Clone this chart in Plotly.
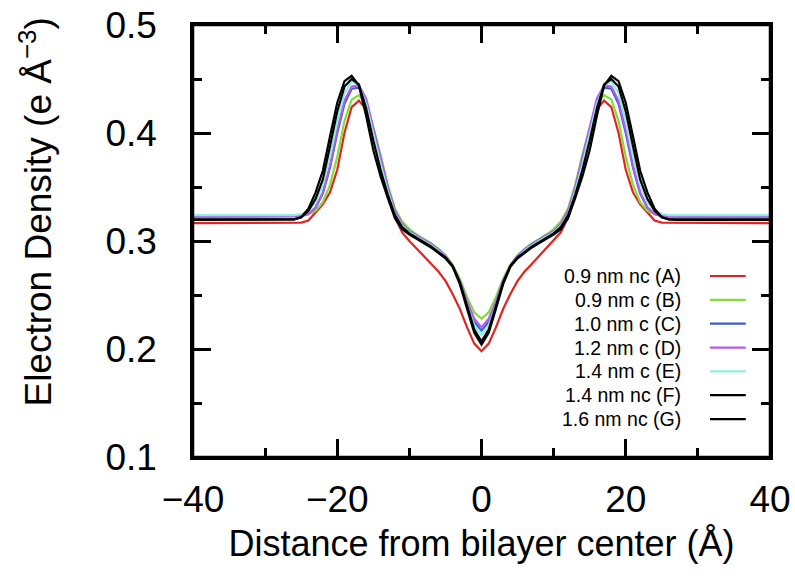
import plotly.graph_objects as go

# ---- data ----
x = [-40, -35, -30, -27, -26, -25, -24, -23, -22, -21, -20, -19, -18, -17, -16, -15, -14,
     -13, -12, -11, -10, -9, -8, -7, -6, -5, -4, -3, -2, -1, 0,
     1, 2, 3, 4, 5, 6, 7, 8, 9, 10, 11, 12, 13, 14, 15, 16, 17, 18, 19, 20,
     21, 22, 23, 24, 25, 26, 27, 30, 35, 40]

dens_A = [0.3165, 0.3165, 0.317, 0.317, 0.317, 0.317, 0.319, 0.326, 0.334, 0.345, 0.366, 0.400, 0.424, 0.430, 0.422, 0.401, 0.374,
          0.346, 0.322, 0.308, 0.300, 0.293, 0.286, 0.279, 0.272, 0.263, 0.251, 0.237, 0.220, 0.205, 0.198,
          0.205, 0.220, 0.237, 0.251, 0.263, 0.272, 0.279, 0.286, 0.293, 0.300, 0.308, 0.322, 0.346, 0.374, 0.401, 0.422, 0.430, 0.424, 0.400, 0.366,
          0.345, 0.334, 0.326, 0.319, 0.317, 0.317, 0.317, 0.317, 0.3165, 0.3165]

dens_B = [0.324, 0.324, 0.324, 0.324, 0.324, 0.324, 0.325, 0.328, 0.336, 0.352, 0.378, 0.411, 0.431, 0.435, 0.427, 0.405, 0.380,
          0.352, 0.330, 0.318, 0.311, 0.306, 0.302, 0.298, 0.293, 0.287, 0.278, 0.265, 0.248, 0.234, 0.228,
          0.234, 0.248, 0.265, 0.278, 0.287, 0.293, 0.298, 0.302, 0.306, 0.311, 0.318, 0.330, 0.352, 0.380, 0.405, 0.427, 0.435, 0.431, 0.411, 0.378,
          0.352, 0.336, 0.328, 0.325, 0.324, 0.324, 0.324, 0.324, 0.324, 0.324]

dens_C = [0.3225, 0.3225, 0.3225, 0.3225, 0.3225, 0.323, 0.325, 0.331, 0.344, 0.368, 0.400, 0.427, 0.441, 0.442, 0.430, 0.404, 0.376,
          0.349, 0.327, 0.315, 0.309, 0.305, 0.301, 0.297, 0.292, 0.286, 0.277, 0.262, 0.242, 0.225, 0.217,
          0.225, 0.242, 0.262, 0.277, 0.286, 0.292, 0.297, 0.301, 0.305, 0.309, 0.315, 0.327, 0.349, 0.376, 0.404, 0.430, 0.442, 0.441, 0.427, 0.400,
          0.368, 0.344, 0.331, 0.325, 0.323, 0.3225, 0.3225, 0.3225, 0.3225, 0.3225]

dens_D = [0.3225, 0.3225, 0.3225, 0.3225, 0.3225, 0.323, 0.325, 0.331, 0.345, 0.370, 0.403, 0.430, 0.443, 0.444, 0.432, 0.405, 0.377,
          0.350, 0.328, 0.316, 0.309, 0.305, 0.301, 0.297, 0.292, 0.286, 0.277, 0.263, 0.244, 0.228, 0.220,
          0.228, 0.244, 0.263, 0.277, 0.286, 0.292, 0.297, 0.301, 0.305, 0.309, 0.316, 0.328, 0.350, 0.377, 0.405, 0.432, 0.444, 0.443, 0.430, 0.403,
          0.370, 0.345, 0.331, 0.325, 0.323, 0.3225, 0.3225, 0.3225, 0.3225, 0.3225]

dens_E = [0.324, 0.324, 0.324, 0.324, 0.324, 0.325, 0.328, 0.336, 0.352, 0.379, 0.411, 0.437, 0.448, 0.444, 0.427, 0.399, 0.371,
          0.346, 0.325, 0.314, 0.308, 0.304, 0.300, 0.296, 0.291, 0.285, 0.276, 0.261, 0.240, 0.222, 0.213,
          0.222, 0.240, 0.261, 0.276, 0.285, 0.291, 0.296, 0.300, 0.304, 0.308, 0.314, 0.325, 0.346, 0.371, 0.399, 0.427, 0.444, 0.448, 0.437, 0.411,
          0.379, 0.352, 0.336, 0.328, 0.325, 0.324, 0.324, 0.324, 0.324, 0.324]

dens_F = [0.3195, 0.3195, 0.3195, 0.3195, 0.320, 0.322, 0.328, 0.339, 0.357, 0.388, 0.420, 0.443, 0.450, 0.445, 0.423, 0.393, 0.366,
          0.343, 0.324, 0.313, 0.307, 0.303, 0.299, 0.295, 0.290, 0.285, 0.277, 0.262, 0.240, 0.218, 0.207,
          0.218, 0.240, 0.262, 0.277, 0.285, 0.290, 0.295, 0.299, 0.303, 0.307, 0.313, 0.324, 0.343, 0.366, 0.393, 0.423, 0.445, 0.450, 0.443, 0.420,
          0.388, 0.357, 0.339, 0.328, 0.322, 0.320, 0.3195, 0.3195, 0.3195, 0.3195]

dens_G = [0.320, 0.320, 0.320, 0.320, 0.320, 0.322, 0.330, 0.345, 0.365, 0.397, 0.428, 0.448, 0.453, 0.444, 0.416, 0.384, 0.360,
          0.340, 0.321, 0.311, 0.306, 0.302, 0.298, 0.294, 0.289, 0.284, 0.276, 0.260, 0.237, 0.215, 0.204,
          0.215, 0.237, 0.260, 0.276, 0.284, 0.289, 0.294, 0.298, 0.302, 0.306, 0.311, 0.321, 0.340, 0.360, 0.384, 0.416, 0.444, 0.453, 0.448, 0.428,
          0.397, 0.365, 0.345, 0.330, 0.322, 0.320, 0.320, 0.320, 0.320, 0.320]

series_names = ["0.9 nm nc (A)", "0.9 nm c (B)", "1.0 nm c (C)", "1.2 nm c (D)",
                "1.4 nm c (E)", "1.4 nm nc (F)", "1.6 nm nc (G)"]
series_values = [dens_A, dens_B, dens_C, dens_D, dens_E, dens_F, dens_G]
series_colors = ["#e3231f", "#84dc3c", "#3a5fcd", "#b25cf0", "#8ff0dc", "#000000", "#000000"]

x_ticks = [-40, -20, 0, 20, 40]
y_ticks = [0.1, 0.2, 0.3, 0.4, 0.5]

FONT = "Liberation Sans, Arial, Helvetica, sans-serif"

fig = go.Figure()
for name, vals, col in zip(series_names, series_values, series_colors):
    fig.add_trace(go.Scatter(x=x, y=vals, mode="lines", name=name,
                             line=dict(color=col, width=2.2), showlegend=False))

# legend drawn gnuplot-style: right-aligned text, sample line on the right
leg_top = 0.419
leg_step = 0.0552
for i, (name, col) in enumerate(zip(series_names, series_colors)):
    yy = leg_top - i * leg_step
    fig.add_annotation(x=0.849, y=yy, xref="paper", yref="paper", text=name,
                       showarrow=False, xanchor="right", yanchor="middle",
                       font=dict(family=FONT, size=19.5, color="black"))
    fig.add_shape(type="line", xref="paper", yref="paper",
                  x0=0.896, x1=0.958, y0=yy, y1=yy,
                  line=dict(color=col, width=2.2))

# y-axis title placed like the reference (slightly above the axis centre)
fig.add_annotation(x=-0.272, y=0.566, xref="paper", yref="paper",
                   text="Electron Density (e Å<sup>−3</sup>)", textangle=-90,
                   showarrow=False, xanchor="center", yanchor="middle",
                   font=dict(family=FONT, size=37, color="black"))

# full frame around the plot area
fig.add_shape(type="rect", xref="paper", yref="paper", x0=0, x1=1, y0=0, y1=1,
              line=dict(color="black", width=2.5), layer="above")

axis_common = dict(
    showline=True, linecolor="black", linewidth=2.5, mirror="ticks",
    ticks="inside", ticklen=18, tickwidth=2.5, tickcolor="black",
    showgrid=False, zeroline=False, automargin=False,
    ticklabeloverflow="allow",
    tickfont=dict(family=FONT, size=37, color="black"),
)

fig.update_xaxes(range=[-40, 40], tickvals=x_ticks,
                 minor=dict(ticks="inside", ticklen=9, tickwidth=2.5, tickcolor="black", dtick=10, tick0=0),
                 title=dict(text="Distance from bilayer center (Å)",
                            font=dict(family=FONT, size=36, color="black"), standoff=12),
                 ticklabelstandoff=8,
                 **axis_common)
fig.update_yaxes(range=[0.1, 0.5], tickvals=y_ticks, tickformat=".1f",
                 minor=dict(ticks="inside", ticklen=9, tickwidth=2.5, tickcolor="black", dtick=0.05, tick0=0),
                 ticklabelstandoff=26,
                 **axis_common)

fig.update_layout(width=795, height=580,
                  margin=dict(l=193, r=25, t=25, b=123),
                  paper_bgcolor="white", plot_bgcolor="white",
                  font=dict(family=FONT, color="black"))

# remove the browser's default 8px page margin so the figure sits at the window origin
fig.write_html("out.html",
               config={"displayModeBar": False},
               post_script="document.body.style.margin='0';document.body.style.overflow='hidden';")
